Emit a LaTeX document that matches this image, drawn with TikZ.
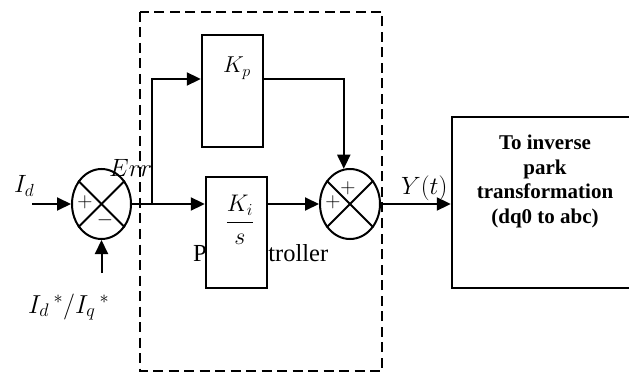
\RequirePackage{fix-cm}
\documentclass[tikz,border=0pt]{standalone}
\usepackage{amsmath}
\usepackage{fontspec}
\setmainfont{Liberation Serif}
\usetikzlibrary{shapes.geometric,arrows.meta}
\tikzset{
  ln/.style={line width=2pt},
  arr/.style={line width=2pt,-{Triangle[length=14pt,width=13pt]}},
  sumnode/.style={ellipse,draw,line width=2pt,inner sep=0pt,minimum width=59pt,minimum height=70pt},
  blk/.style={rectangle,draw,line width=2.4pt,fill=white,inner sep=0pt},
  mathlbl/.style={inner sep=0pt,font=\fontsize{25}{30}\selectfont},
}
\begin{document}
\begin{tikzpicture}[x=1pt,y=-1pt]
\useasboundingbox (0,0) rectangle (629,374);
\clip (0,0) rectangle (629,374);
% dashed controller frame
\draw[line width=2pt,dash pattern=on 10pt off 5.5pt] (140,12) rectangle (382,371);
% PI controller text (partly hidden)
\node[anchor=base west,inner sep=0pt,font=\fontsize{24.5}{30}\selectfont] (pitxt) at (193,261) {PI\hspace{18pt}controller};
% blocks
\node[blk,minimum width=61pt,minimum height=112pt] (kp) at (232.5,91) {};
\node[anchor=base west,inner sep=0pt,font=\fontsize{23}{27}\selectfont] (kplbl) at (223,73) {$K_p$};
\node[blk,minimum width=61pt,minimum height=111pt] (ki) at (236.5,232.5) {};
\node[anchor=base,inner sep=0pt,font=\fontsize{24}{28}\selectfont] (kilbl) at (240,228) {$\dfrac{K_i}{s}$};
\node[blk,minimum width=188pt,minimum height=171pt] (big) at (546,202.5) {};
\node[anchor=base,inner sep=0pt,align=center,font=\fontsize{21}{24.5}\selectfont\bfseries] (bigtxt) at (545,223)
  {To inverse\\park\\transformation\\(dq0 to abc)};
% summing junctions
\node[sumnode] (s1) at (101.5,204) {};
\draw[ln] (s1.45) -- (s1.225);
\draw[ln] (s1.135) -- (s1.315);
\node[inner sep=0pt,font=\fontsize{21}{24}\selectfont] (s1p) at (85,202) {$+$};
\node[inner sep=0pt,font=\fontsize{21}{24}\selectfont] (s1m) at (105,220) {$-$};
\node[sumnode,minimum width=60pt] (s2) at (350,204) {};
\draw[ln] (s2.45) -- (s2.225);
\draw[ln] (s2.135) -- (s2.315);
\node[inner sep=0pt,font=\fontsize{21}{24}\selectfont] (s2p1) at (333,202) {$+$};
\node[inner sep=0pt,font=\fontsize{21}{24}\selectfont] (s2p2) at (348,188) {$+$};
% inputs
\coordinate (idin) at (32,204);
\coordinate (refin) at (101.5,273);
\coordinate (br) at (152,204);
\draw[arr] (idin) -- (s1.west);
\draw[arr] (refin) -- (s1.south);
\node[mathlbl,anchor=base west] (idlbl) at (14,193) {$I_d$};
\node[mathlbl,anchor=base west,font=\fontsize{26}{30}\selectfont] (reflbl) at (28,313) {$I_d\,{}^{*}/I_q\,{}^{*}$};
\node[mathlbl,anchor=base west] (errlbl) at (109,177) {$Err$};
% connections
\draw[arr] (s1.east) -- (s1.east -| ki.west);
\draw[arr] (br) |- ([yshift=12pt]kp.west);
\draw[arr] ([yshift=12pt]kp.east) -| (s2.100);
\draw[arr] (s2.west -| ki.east) -- (s2.west);
\draw[arr] (s2.east) -- (s2.east -| big.west);
\node[mathlbl,anchor=base west] (ylbl) at (401,195) {$Y(t)$};
\end{tikzpicture}
\end{document}
